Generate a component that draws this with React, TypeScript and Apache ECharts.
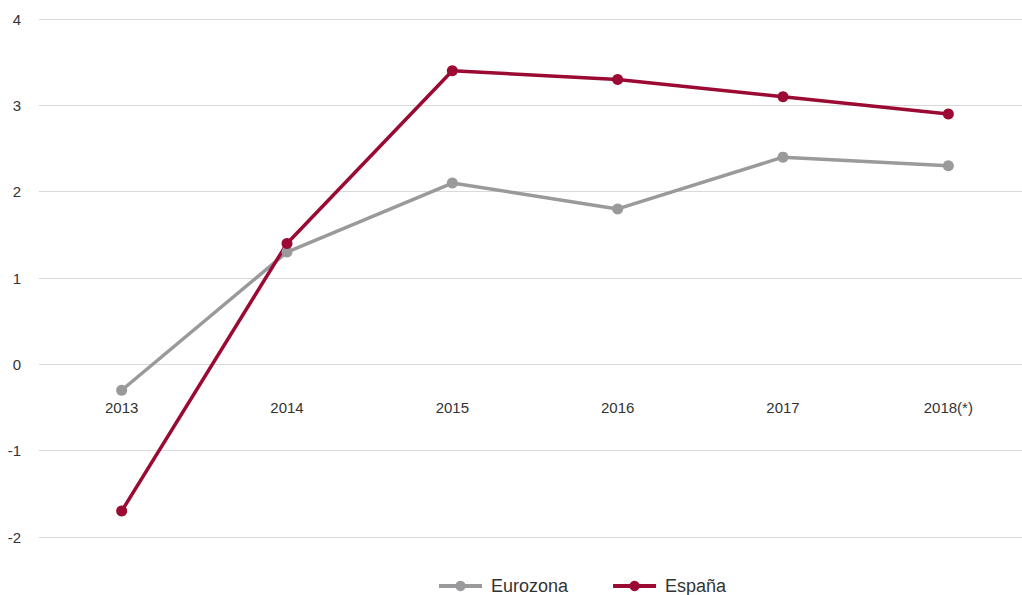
import React, { useEffect, useRef } from "react";
import * as echarts from "echarts";

const categories = ["2013", "2014", "2015", "2016", "2017", "2018(*)"];
const eurozona = [-0.3, 1.3, 2.1, 1.8, 2.4, 2.3];
const espana = [-1.7, 1.4, 3.4, 3.3, 3.1, 2.9];

export default function App() {
  const ref = useRef<HTMLDivElement>(null);
  useEffect(() => {
    if (!ref.current) return;
    const chart = echarts.init(ref.current, null, { renderer: "svg" });
    const font = "Liberation Sans, Arial, sans-serif";
    chart.setOption({
      animation: false,
      backgroundColor: "#ffffff",
      grid: {
        left: 39,
        top: 19,
        width: 992,
        bottom: 58,
        containLabel: false,
        outerBoundsMode: "none",
      },
      legend: {
        left: 437,
        top: 577,
        padding: 0,
        itemWidth: 43,
        itemHeight: 13,
        itemGap: 43,
        lineStyle: { width: 4 },
        textStyle: {
          fontFamily: font,
          fontSize: 18,
          color: "#333333",
          padding: [0, 0, 0, 4],
        },
        data: ["Eurozona", "España"],
      },
      xAxis: {
        type: "category",
        data: categories,
        position: "bottom",
        offset: -172,
        axisLine: { show: false, onZero: false },
        axisTick: { show: false },
        axisLabel: { margin: 35, fontFamily: font, fontSize: 15, color: "#333333" },
      },
      yAxis: {
        type: "value",
        min: -2,
        max: 4,
        interval: 1,
        axisLine: { show: false },
        axisTick: { show: false },
        axisLabel: { margin: 18, fontFamily: font, fontSize: 15, color: "#333333" },
        splitLine: { lineStyle: { color: "#d9d9d9", width: 1 } },
      },
      series: [
        {
          name: "Eurozona",
          type: "line",
          data: eurozona,
          symbol: "circle",
          symbolSize: 11,
          color: "#9a9a9c",
          lineStyle: { width: 3.5, color: "#9a9a9c" },
          itemStyle: { color: "#9a9a9c" },
        },
        {
          name: "España",
          type: "line",
          data: espana,
          symbol: "circle",
          symbolSize: 11,
          color: "#9b0a32",
          lineStyle: { width: 3.5, color: "#9b0a32" },
          itemStyle: { color: "#9b0a32" },
        },
      ],
    });
    return () => chart.dispose();
  }, []);
  return (
    <div
      ref={ref}
      style={{ position: "absolute", left: 0, top: 0, width: 1022, height: 595 }}
    />
  );
}
